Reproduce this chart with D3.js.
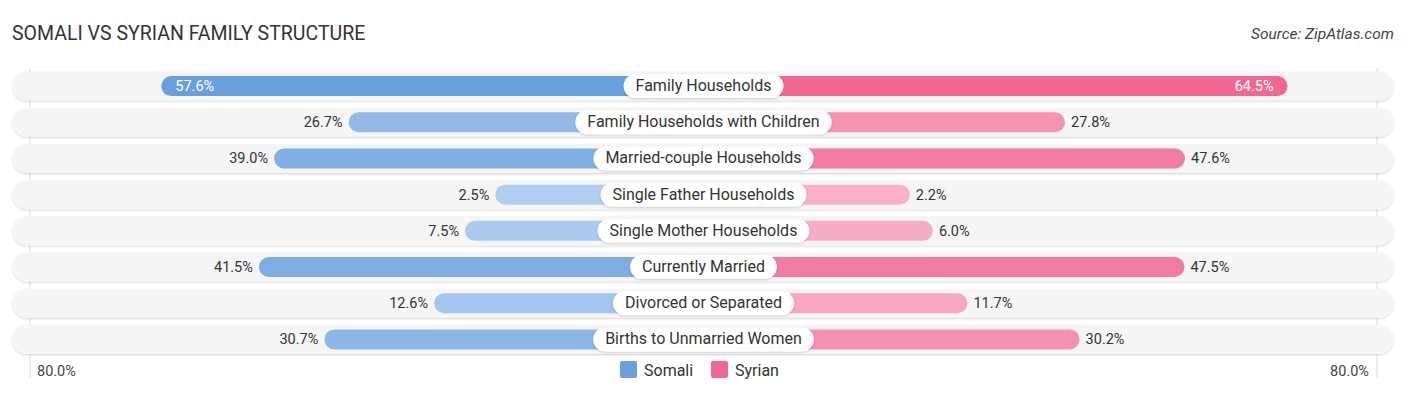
<!DOCTYPE html>
<html>
<head>
<meta charset="utf-8">
<script src="https://cdn.jsdelivr.net/npm/d3@7"></script>
<style>
  body { margin: 0; background: #fff; }
  svg { font-family: Roboto, "Open Sans", sans-serif; }
</style>
</head>
<body>
<div class="chart"></div>
<script>
var categories = ['Family Households', 'Family Households with Children', 'Married-couple Households',
  'Single Father Households', 'Single Mother Households', 'Currently Married',
  'Divorced or Separated', 'Births to Unmarried Women'];
var somali = [57.6, 26.7, 39.0, 2.5, 7.5, 41.5, 12.6, 30.7];
var syrian = [64.5, 27.8, 47.6, 2.2, 6.0, 47.5, 11.7, 30.2];
var seriesNames = ['Somali', 'Syrian'];
var axisMax = 80;
var axisLabel = '80.0%';

var width = 1406, height = 395;
var cx = 703.5;

var svg = d3.select('.chart').append('svg')
  .attr('width', width)
  .attr('height', height);

// distance of a bar's end from the centre line
var x = d3.scaleLinear().domain([0, axisMax]).range([193, 678]);
var y = d3.scaleBand().domain(categories).range([68, 357.5]).paddingInner(0);

var blueScale = d3.scaleLinear().domain([0, d3.max(somali)]).range(['#b4d0f1', '#6a9fde']);
var pinkScale = d3.scaleLinear().domain([0, d3.max(syrian)]).range(['#f8b4ca', '#f06892']);

var defs = svg.append('defs');
var f = defs.append('filter').attr('id', 'sh').attr('x', '-5%').attr('y', '-30%').attr('width', '110%').attr('height', '160%');
f.append('feDropShadow').attr('dx', 0).attr('dy', 1).attr('stdDeviation', 1).attr('flood-color', '#000').attr('flood-opacity', 0.18);

svg.append('text')
  .attr('x', 12).attr('y', 40)
  .attr('font-size', 19.5).attr('fill', '#333')
  .text('SOMALI VS SYRIAN FAMILY STRUCTURE');

svg.append('text')
  .attr('x', 1394).attr('y', 39)
  .attr('text-anchor', 'end')
  .attr('font-size', 15.5).attr('font-style', 'italic').attr('fill', '#444')
  .text('Source: ZipAtlas.com');

// faint vertical lines at the axis max
[cx - 673.5, cx + 673.5].forEach(function(lx) {
  svg.append('line')
    .attr('x1', lx).attr('x2', lx).attr('y1', 68).attr('y2', 378)
    .attr('stroke', '#ddd').attr('stroke-width', 1);
});

var rows = svg.selectAll('g.row')
  .data(categories)
  .enter().append('g')
    .attr('class', 'row')
    .attr('transform', function(d) { return 'translate(0,' + (y(d) + y.bandwidth() / 2) + ')'; });

rows.append('rect')
  .attr('x', 12.5).attr('y', -14.5)
  .attr('width', 1381).attr('height', 29)
  .attr('rx', 14.5)
  .attr('fill', '#f5f5f5')
  .attr('filter', 'url(#sh)');

rows.append('rect')
  .attr('x', function(d, i) { return cx - x(somali[i]); })
  .attr('y', -10)
  .attr('width', function(d, i) { return x(somali[i]); })
  .attr('height', 20)
  .attr('rx', 10)
  .attr('fill', function(d, i) { return blueScale(somali[i]); });

rows.append('rect')
  .attr('x', cx)
  .attr('y', -10)
  .attr('width', function(d, i) { return x(syrian[i]); })
  .attr('height', 20)
  .attr('rx', 10)
  .attr('fill', function(d, i) { return pinkScale(syrian[i]); });

// value labels
rows.append('text')
  .attr('x', function(d, i) {
    return i === 0 ? cx - x(somali[i]) + 14 : cx - x(somali[i]) - 6;
  })
  .attr('y', 5)
  .attr('text-anchor', function(d, i) { return i === 0 ? 'start' : 'end'; })
  .attr('font-size', 14.5)
  .attr('fill', function(d, i) { return i === 0 ? '#fff' : '#333'; })
  .text(function(d, i) { return somali[i].toFixed(1) + '%'; });

rows.append('text')
  .attr('x', function(d, i) {
    return i === 0 ? cx + x(syrian[i]) - 14 : cx + x(syrian[i]) + 6;
  })
  .attr('y', 5)
  .attr('text-anchor', function(d, i) { return i === 0 ? 'end' : 'start'; })
  .attr('font-size', 14.5)
  .attr('fill', function(d, i) { return i === 0 ? '#fff' : '#333'; })
  .text(function(d, i) { return syrian[i].toFixed(1) + '%'; });

// category labels in white pills
rows.each(function(d) {
  var g = d3.select(this);
  var t = g.append('text')
    .attr('x', cx).attr('y', 5)
    .attr('text-anchor', 'middle')
    .attr('font-size', 16)
    .attr('fill', '#333')
    .text(d);
  var w = t.node().getComputedTextLength() + 24;
  g.insert('rect', function() { return t.node(); })
    .attr('x', cx - w / 2).attr('y', -12)
    .attr('width', w).attr('height', 24)
    .attr('rx', 12)
    .attr('fill', '#fff')
    .attr('filter', 'url(#sh)');
});

// axis labels
svg.append('text')
  .attr('x', 37).attr('y', 376)
  .attr('font-size', 14.5).attr('fill', '#444')
  .text(axisLabel);
svg.append('text')
  .attr('x', 1369).attr('y', 376)
  .attr('text-anchor', 'end')
  .attr('font-size', 14.5).attr('fill', '#444')
  .text(axisLabel);

// legend
var legendX = [620, 711];
var legendColors = ['#6a9fde', '#f06892'];
seriesNames.forEach(function(name, i) {
  svg.append('rect')
    .attr('x', legendX[i]).attr('y', 361)
    .attr('width', 17).attr('height', 17)
    .attr('rx', 2)
    .attr('fill', legendColors[i]);
  svg.append('text')
    .attr('x', legendX[i] + 24).attr('y', 376)
    .attr('font-size', 16).attr('fill', '#333')
    .text(name);
});
</script>
</body>
</html>
